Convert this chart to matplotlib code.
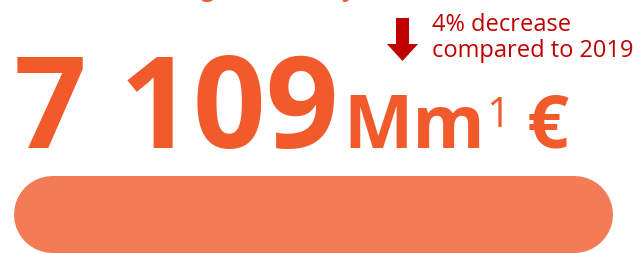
import matplotlib.pyplot as plt
from matplotlib.patches import Polygon

plt.rcParams['font.family'] = ['Open Sans', 'DejaVu Sans']

# data
total_value = 7109
value_label = '7 109'
unit_label = 'Mm'
unit_note = '1'
currency = '€'
change_pct = -4
ref_year = 2019
title = 'Turnover generated by the sector'

orange = '#F15A2B'
bar_orange = '#F37B56'
dark_red = '#C00000'

W, H = 641, 255
fig = plt.figure(figsize=(W / 100, H / 100), dpi=100)

# pixel-space overlay for the text block
ax = fig.add_axes([0, 0, 1, 1])
ax.set_xlim(0, W)
ax.set_ylim(H, 0)
ax.axis('off')

# title sits mostly above the frame, only descenders show (as in the source)
ax.text(88, -4, title, color=orange, fontsize=17, fontweight='bold',
        ha='left', va='baseline')

ax.text(14, 148, value_label, color=orange, fontsize=92, fontweight='bold',
        ha='left', va='baseline')
ax.text(343, 148, unit_label, color=orange, fontsize=53, fontweight='bold',
        ha='left', va='baseline')
ax.text(486, 127, unit_note, color=orange, fontsize=30,
        ha='left', va='baseline')
ax.text(527, 148, currency, color=orange, fontsize=53, fontweight='bold',
        ha='left', va='baseline')

word = 'decrease' if change_pct < 0 else 'increase'
ax.text(432, 31, f'{abs(change_pct)}% {word}', color=dark_red, fontsize=17,
        ha='left', va='baseline')
ax.text(432, 57, f'compared to {ref_year}', color=dark_red, fontsize=17,
        ha='left', va='baseline')

# down arrow
arrow = Polygon([(396, 19), (409, 19), (409, 45), (418, 45), (402.5, 62),
                 (387, 45), (396, 45)], closed=True, color=dark_red, lw=0)
ax.add_patch(arrow)

# rounded bar for the total
bax = fig.add_axes([51.5 / W, 0, (573.5 - 51.5) / W, 1])
bax.set_xlim(0, total_value)
bax.set_ylim(H, 0)
bax.axis('off')
bax.plot([0, total_value], [214.5, 214.5], color=bar_orange, lw=77 * 72 / 100,
         solid_capstyle='round', clip_on=False)

fig.savefig('out.png', dpi=100)
